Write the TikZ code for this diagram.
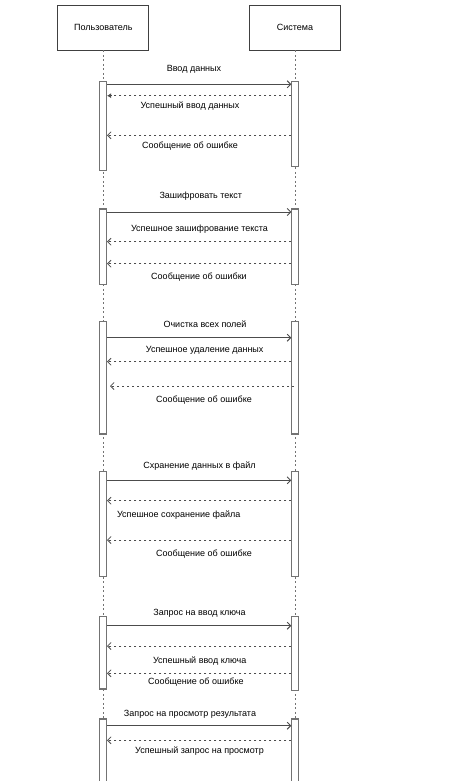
\documentclass[tikz,border=0pt]{standalone}
\usepackage{fontspec}
\setmainfont{Liberation Sans}
\usetikzlibrary{arrows.meta}
\begin{document}
\begin{tikzpicture}[x=1pt,y=-1pt,
  actor/.style={draw=black!75, line width=0.8pt, fill=white, minimum width=91pt, minimum height=45pt, inner sep=0pt, font=\fontsize{9}{11}\selectfont},
  lifeline/.style={draw=black!55, line width=0.7pt, dash pattern=on 2pt off 2.5pt},
  bar/.style={draw=black!55, line width=1.3pt, fill=white, minimum width=7pt, inner sep=0pt, anchor=north},
  call/.style={draw=black!70, line width=0.9pt, -{Straight Barb[length=3.5pt,width=7pt]}},
  reply/.style={draw=black!70, line width=0.8pt, dash pattern=on 2.5pt off 2.5pt, -{Straight Barb[length=3.5pt,width=7pt]}},
  replyfilled/.style={draw=black!70, line width=0.8pt, dash pattern=on 2.5pt off 2.5pt, -{Latex[length=4pt,width=5pt]}},
  lbl/.style={font=\fontsize{9}{11}\selectfont, inner sep=0pt}]
\useasboundingbox (0,0) rectangle (466,781);

% participants
\node[actor] (user) at (103.3,27.5) {Пользователь};
\node[actor] (sys) at (295,27.5) {Система};

% lifelines
\coordinate (uend) at (103.3,781);
\coordinate (send) at (295,781);
\draw[lifeline] (user.south) -- (uend);
\draw[lifeline] (sys.south) -- (send);

% activation bars
\node[bar, minimum height=89.3pt] (u1) at (103.3,80.7) {};
\node[bar, minimum height=85pt]   (s1) at (295,80.7) {};
\node[bar, minimum height=75.7pt] (u2) at (103.3,208.3) {};
\node[bar, minimum height=75.7pt] (s2) at (295,208.3) {};
\node[bar, minimum height=112.6pt] (u3) at (103.3,320.7) {};
\node[bar, minimum height=112.6pt] (s3) at (295,320.7) {};
\node[bar, minimum height=105pt] (u4) at (103.3,470.7) {};
\node[bar, minimum height=105pt] (s4) at (295,470.7) {};
\node[bar, minimum height=72.3pt] (u5) at (103.3,616) {};
\node[bar, minimum height=74pt]   (s5) at (295,616) {};
\node[bar, minimum height=80pt] (u6) at (103.3,718.3) {};
\node[bar, minimum height=80pt] (s6) at (295,718.3) {};

% message end points
\foreach \n/\y in {a/84.3, b/95.7, c/135.3, d/212, e/241.7, f/263.7, g/337.7, h/361.7,
                   j/480.3, k/500.7, l/540, m/625.7, n/646, o/673.3, p/725.7, q/740.3} {
  \coordinate (U\n) at (107,\y);
  \coordinate (S\n) at (291.3,\y);
}
\coordinate (Ui) at (110,386);
\coordinate (Si) at (294,386);

% block 1
\draw[call] (Ua) -- (Sa);
\draw[replyfilled] (Sb) -- (Ub);
\draw[reply] (Sc) -- (Uc);
\node[lbl] (t1) at (194,69.3) {Ввод данных};
\node[lbl] (t2) at (190,106) {Успешный ввод данных};
\node[lbl] (t3) at (190,146) {Сообщение об ошибке};

% block 2
\draw[call] (Ud) -- (Sd);
\draw[reply] (Se) -- (Ue);
\draw[reply] (Sf) -- (Uf);
\node[lbl] (t4) at (200.8,195.7) {Зашифровать текст};
\node[lbl] (t5) at (199.5,229) {Успешное зашифрование текста};
\node[lbl] (t6) at (199,277) {Сообщение об ошибки};

% block 3
\draw[call] (Ug) -- (Sg);
\draw[reply] (Sh) -- (Uh);
\draw[reply] (Si) -- (Ui);
\node[lbl] (t7) at (205,324) {Очистка всех полей};
\node[lbl] (t8) at (204.7,350) {Успешное удаление данных};
\node[lbl] (t9) at (204,400) {Сообщение об ошибке};

% block 4
\draw[call] (Uj) -- (Sj);
\draw[reply] (Sk) -- (Uk);
\draw[reply] (Sl) -- (Ul);
\node[lbl] (t10) at (199.5,465.7) {Схранение данных в файл};
\node[lbl] (t11) at (178.7,514.7) {Успешное сохранение файла};
\node[lbl] (t12) at (204,554) {Сообщение об ошибке};

% block 5
\draw[call] (Um) -- (Sm);
\draw[reply] (Sn) -- (Un);
\draw[reply] (So) -- (Uo);
\node[lbl] (t13) at (199.5,613.3) {Запрос на ввод ключа};
\node[lbl] (t14) at (199.7,661) {Успешный ввод ключа};
\node[lbl] (t15) at (195.8,681.7) {Сообщение об ошибке};

% block 6
\draw[call] (Up) -- (Sp);
\draw[reply] (Sq) -- (Uq);
\node[lbl] (t16) at (190,714) {Запрос на просмотр результата};
\node[lbl] (t17) at (199.5,751) {Успешный запрос на просмотр};
\end{tikzpicture}
\end{document}
